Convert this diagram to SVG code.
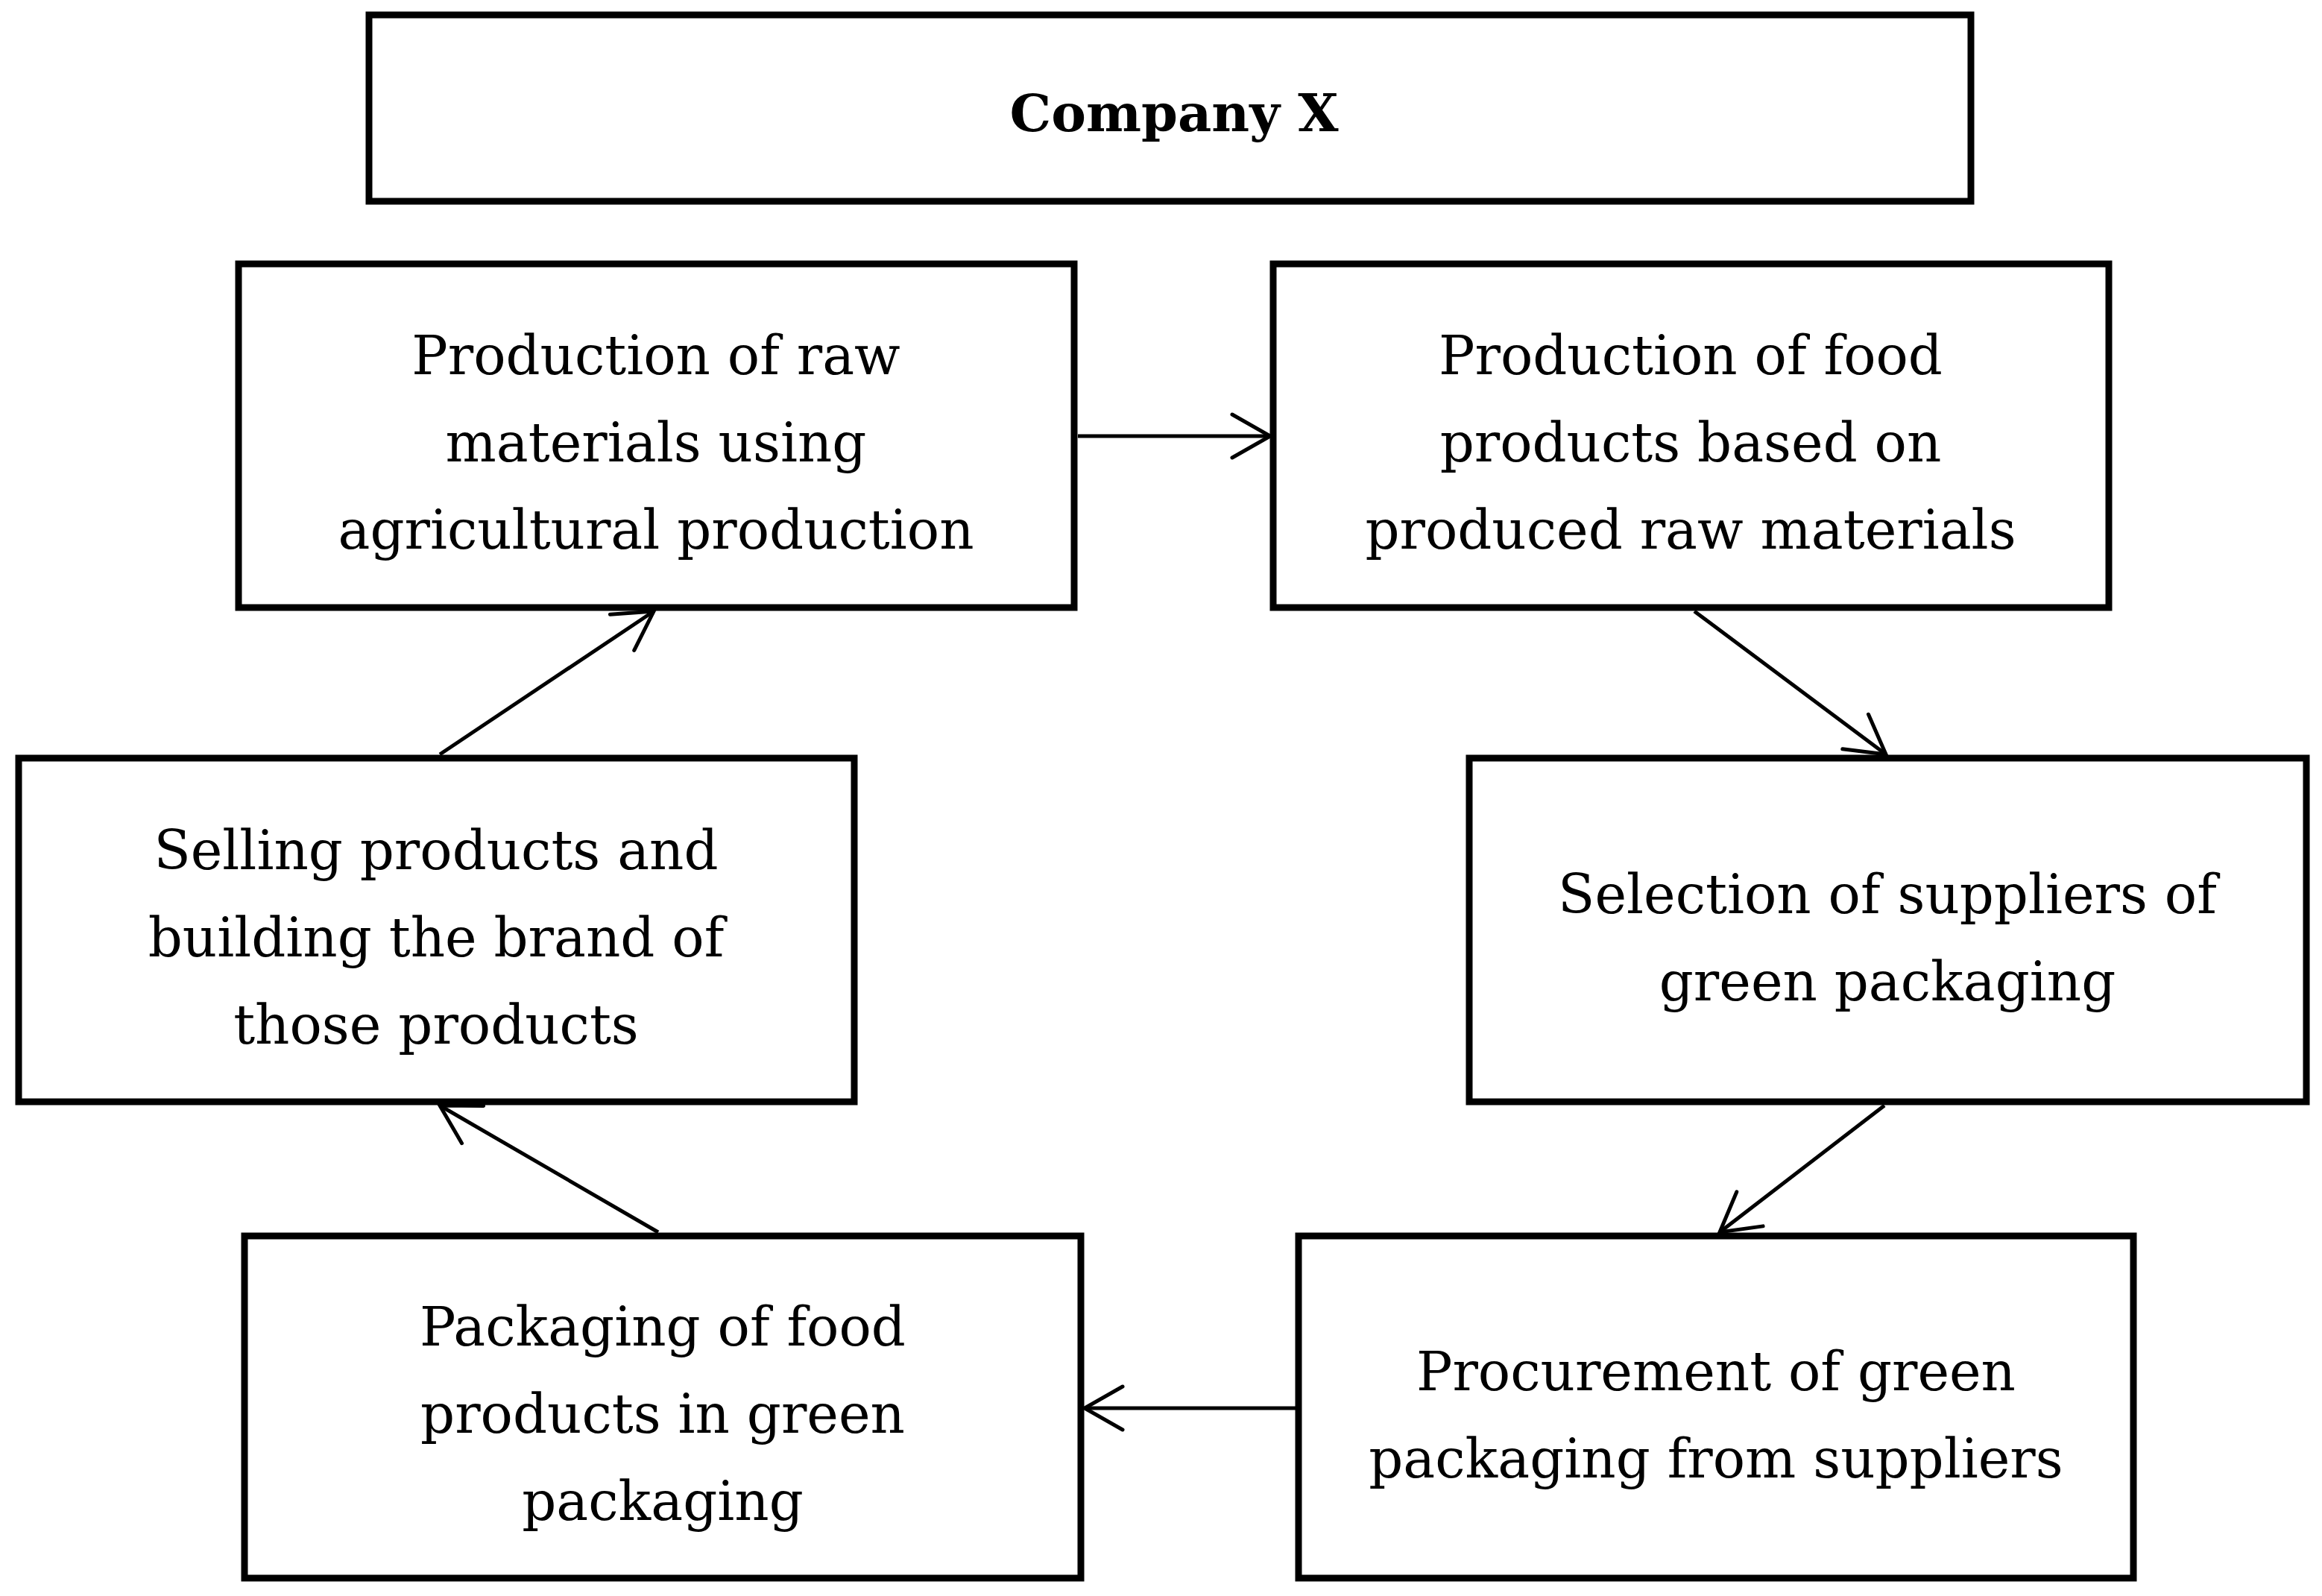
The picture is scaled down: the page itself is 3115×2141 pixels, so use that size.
<svg xmlns="http://www.w3.org/2000/svg" width="3115" height="2141" viewBox="0 0 3115 2141">
<style>
.box{fill:#fff;stroke:#000;stroke-width:9}
.t{font-family:"DejaVu Serif","Liberation Serif",serif;font-size:72px;text-anchor:middle;fill:#000}
.title{font-family:"DejaVu Serif","Liberation Serif",serif;font-size:70px;font-weight:bold;text-anchor:middle;fill:#000}
.c{stroke:#000;stroke-width:5;fill:none;marker-end:url(#ah)}
</style>
<defs>
<marker id="ah" markerUnits="userSpaceOnUse" markerWidth="120" markerHeight="120" refX="0" refY="0" orient="auto" overflow="visible">
<path d="M -51,-29 L 0,0 L -51,29" fill="none" stroke="#000" stroke-width="5" stroke-linecap="round" stroke-linejoin="miter"/>
</marker>
</defs>
<rect x="0" y="0" width="3115" height="2141" fill="#fff"/>
<g id="company">
<rect class="box" x="495" y="20" width="2149" height="250"/>
<text class="title" x="1575" y="176">Company X</text>
</g>
<g id="raw">
<rect class="box" x="320" y="354" width="1121" height="461"/>
<text class="t" x="880" y="502">Production of raw</text>
<text class="t" x="880" y="619">materials using</text>
<text class="t" x="880" y="736">agricultural production</text>
</g>
<g id="food">
<rect class="box" x="1708" y="354" width="1121" height="461"/>
<text class="t" x="2268" y="502">Production of food</text>
<text class="t" x="2268" y="619">products based on</text>
<text class="t" x="2268" y="736">produced raw materials</text>
</g>
<g id="selection">
<rect class="box" x="1971" y="1017" width="1123" height="461"/>
<text class="t" x="2532" y="1225">Selection of suppliers of</text>
<text class="t" x="2532" y="1342">green packaging</text>
</g>
<g id="procurement">
<rect class="box" x="1742" y="1658" width="1120" height="459"/>
<text class="t" x="2302" y="1865">Procurement of green</text>
<text class="t" x="2302" y="1982">packaging from suppliers</text>
</g>
<g id="packaging">
<rect class="box" x="328" y="1658" width="1122" height="459"/>
<text class="t" x="889" y="1805">Packaging of food</text>
<text class="t" x="889" y="1922">products in green</text>
<text class="t" x="889" y="2039">packaging</text>
</g>
<g id="selling">
<rect class="box" x="25" y="1017" width="1121" height="461"/>
<text class="t" x="585" y="1166">Selling products and</text>
<text class="t" x="585" y="1283">building the brand of</text>
<text class="t" x="585" y="1400">those products</text>
</g>
<g id="connectors">
<line class="c" x1="1446" y1="585" x2="1704" y2="585"/>
<line class="c" x1="2273" y1="820" x2="2530" y2="1012"/>
<line class="c" x1="2528" y1="1483" x2="2307" y2="1653"/>
<line class="c" x1="1742" y1="1889" x2="1455" y2="1889"/>
<line class="c" x1="883" y1="1653" x2="590" y2="1483"/>
<line class="c" x1="590" y1="1012" x2="877" y2="820"/>
</g>
</svg>
